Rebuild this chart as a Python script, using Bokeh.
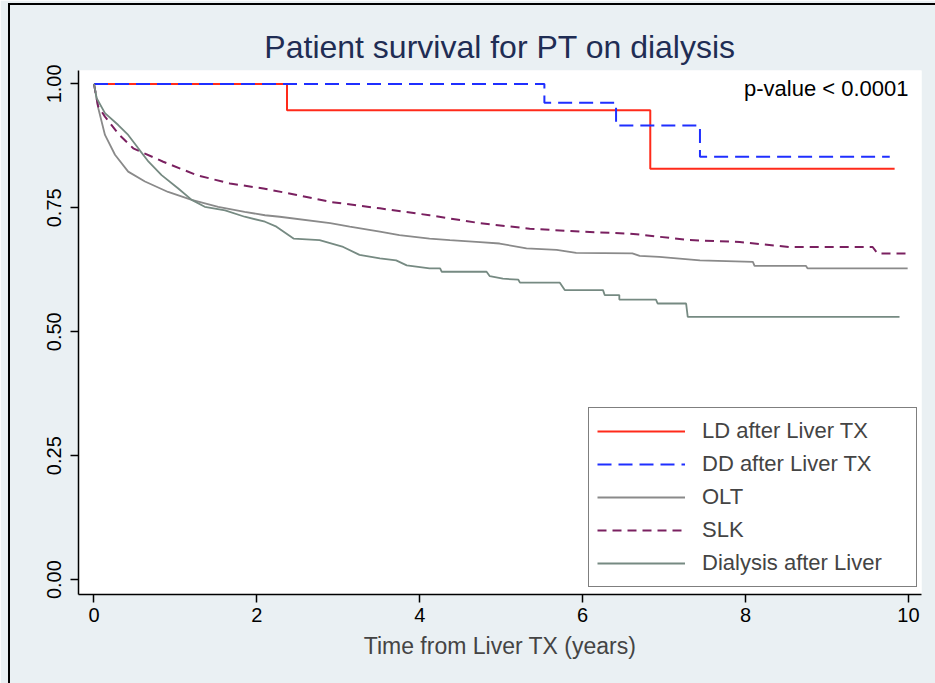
from bokeh.plotting import figure
from bokeh.models import Range1d, FixedTicker, Label, InlineStyleSheet
from bokeh.embed import file_html
from bokeh.resources import INLINE

# ---- data ----
ld_t = [0.0, 2.37, 6.83, 9.83]
ld_s = [1.0, 0.947, 0.829, 0.829]

dd_t = [0.0, 5.53, 6.41, 7.44, 9.77]
dd_s = [1.0, 0.962, 0.916, 0.853, 0.853]

olt_t = [0.0, 0.053, 0.135, 0.258, 0.42, 0.626, 0.91, 1.20, 1.525, 1.85, 2.10, 2.28,
         2.90, 3.14, 3.51, 3.75, 4.12, 4.37, 4.74, 4.98, 5.31, 5.68, 5.92, 6.61, 6.70,
         6.94, 7.44, 8.09, 8.11, 8.74, 8.76, 9.99]
olt_s = [1.0, 0.951, 0.897, 0.857, 0.823, 0.803, 0.782, 0.766, 0.752, 0.742, 0.735, 0.732,
         0.719, 0.712, 0.702, 0.695, 0.688, 0.685, 0.681, 0.678, 0.668, 0.665, 0.659, 0.658, 0.653,
         0.651, 0.644, 0.641, 0.633, 0.633, 0.628, 0.628]

slk_t = [0.0, 0.05, 0.135, 0.30, 0.482, 0.85, 1.26, 1.67, 2.08, 2.49, 2.90, 3.51, 4.12,
         4.74, 5.35, 5.96, 6.58, 7.31, 7.93, 8.54, 9.56, 9.62, 9.97]
slk_s = [1.0, 0.955, 0.934, 0.899, 0.870, 0.843, 0.816, 0.799, 0.789, 0.776, 0.762, 0.749, 0.735,
         0.719, 0.708, 0.702, 0.698, 0.685, 0.681, 0.671, 0.671, 0.658, 0.658]

dial_t = [0.0, 0.033, 0.135, 0.298, 0.42, 0.544, 0.67, 0.83, 1.035, 1.20, 1.36, 1.61, 1.85,
          2.10, 2.24, 2.45, 2.77, 3.06, 3.26, 3.51, 3.71, 3.84, 4.12, 4.25, 4.27, 4.82, 4.86,
          5.02, 5.21, 5.23, 5.72, 5.78, 6.25, 6.27, 6.45, 6.45, 6.90, 6.92, 7.27, 7.29, 9.89]
dial_s = [1.0, 0.971, 0.941, 0.917, 0.897, 0.870, 0.843, 0.816, 0.789, 0.766, 0.752, 0.745, 0.732,
          0.722, 0.712, 0.688, 0.685, 0.671, 0.655, 0.648, 0.644, 0.634, 0.628, 0.628, 0.621, 0.621, 0.612,
          0.607, 0.605, 0.599, 0.599, 0.584, 0.584, 0.574, 0.574, 0.565, 0.565, 0.557, 0.557, 0.530, 0.530]

x_ticks = [0, 2, 4, 6, 8, 10]
y_ticks = [0.0, 0.25, 0.5, 0.75, 1.0]
y_tick_labels = ["0.00", "0.25", "0.50", "0.75", "1.00"]

FONT = "Liberation Sans"
BG = "#eaf0f3"

p = figure(width=935, height=683, output_backend="svg", toolbar_location=None,
           x_range=Range1d(-0.19, 10.16), y_range=Range1d(-0.03, 1.027),
           min_border_left=78, min_border_right=14, min_border_top=70, min_border_bottom=89)

p.background_fill_color = "white"
p.border_fill_color = BG
p.outline_line_color = None
p.grid.visible = False

p.title.text = "Patient survival for PT on dialysis"
p.title.align = "center"
p.title.text_font = FONT
p.title.text_font_size = "32px"
p.title.text_font_style = "normal"
p.title.text_color = "#1f2d54"
p.title.standoff = 12

for ax in (p.xaxis, p.yaxis):
    ax.axis_line_color = "black"
    ax.axis_line_width = 1.5
    ax.major_tick_line_color = "black"
    ax.major_tick_line_width = 1.5
    ax.major_tick_in = 0
    ax.major_tick_out = 8
    ax.minor_tick_line_color = None
    ax.major_label_text_font = FONT
    ax.major_label_text_font_size = "20px"
    ax.major_label_text_color = "black"

p.xaxis.ticker = FixedTicker(ticks=x_ticks)
p.xaxis.major_label_standoff = 5
p.xaxis.axis_label = "Time from Liver TX (years)"
p.xaxis.axis_label_text_font = FONT
p.xaxis.axis_label_text_font_size = "23px"
p.xaxis.axis_label_text_font_style = "normal"
p.xaxis.axis_label_standoff = 8

p.yaxis.ticker = FixedTicker(ticks=y_ticks)
p.yaxis.major_label_overrides = {t: l for t, l in zip(y_ticks, y_tick_labels)}
p.yaxis.major_label_orientation = "vertical"
p.yaxis.major_label_standoff = 9

p.step(ld_t, ld_s, mode="after", line_color="#ff2a1a", line_width=2,
       legend_label="LD after Liver TX")
p.step(dd_t, dd_s, mode="after", line_color="#1f2fff", line_width=2, line_dash="14 7",
       legend_label="DD after Liver TX")
p.line(olt_t, olt_s, line_color="#8a8a8a", line_width=1.8, legend_label="OLT")
p.line(slk_t, slk_s, line_color="#7a2060", line_width=2, line_dash="9 6", legend_label="SLK")
p.line(dial_t, dial_s, line_color="#768a82", line_width=1.8, legend_label="Dialysis after Liver")

lg = p.legend[0]
lg.location = (510, 7)
lg.border_line_color = "black"
lg.border_line_width = 1
lg.background_fill_color = "white"
lg.background_fill_alpha = 1
lg.label_text_font = FONT
lg.label_text_font_size = "22px"
lg.glyph_width = 88
lg.glyph_height = 30
lg.label_height = 30
lg.label_width = 206
lg.spacing = 3
lg.padding = 8
lg.margin = 0
lg.label_standoff = 17

p.add_layout(Label(x=830, y=506, x_units="screen", y_units="screen",
                   text="p-value < 0.0001", text_align="right", text_baseline="middle",
                   text_font=FONT, text_font_size="22px", text_color="black"))

# outer frame of the exported graph (left and top edges visible)
p.stylesheets = [InlineStyleSheet(css="""
:host { position: relative; }
:host::after {
  content: ""; position: absolute; left: 8px; top: 3px; width: 940px; height: 700px;
  border-left: 2px solid black; border-top: 2px solid black; pointer-events: none;
}
""")]

open("out.html", "w").write(file_html(p, INLINE))
